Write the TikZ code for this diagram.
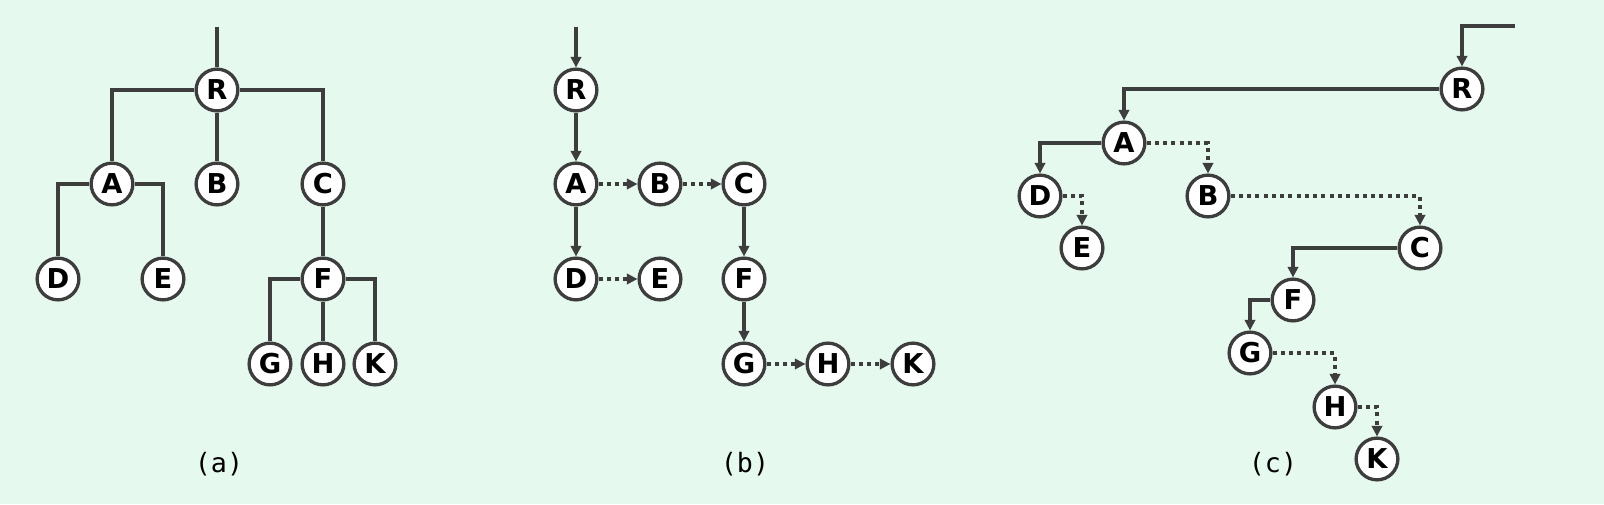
\documentclass[tikz,border=0pt]{standalone}
\usepackage{fontspec}
\setmainfont{DejaVu Sans}
\setmonofont{DejaVu Sans Mono}
\usepackage{tikz}
\usetikzlibrary{arrows.meta,positioning}
\definecolor{fondo}{HTML}{E6F9EF}
\definecolor{trazo}{HTML}{3D3D3D}

\begin{document}
\begin{tikzpicture}[x=0.75pt,y=-0.75pt,
			nodo/.style={draw=trazo,line width=2.5pt,fill=white,circle,minimum size=31.3pt,inner sep=0pt,font=\fontsize{20.5}{20.5}\selectfont\bfseries},
			rama/.style={draw=trazo,line width=2.6pt},
			flecha/.style={rama,-{Triangle[length=8pt,width=7.8pt]}},
			enlace/.style={flecha,dash pattern=on 3pt off 3.2pt},
			etiqueta/.style={font=\fontsize{20}{20}\selectfont\ttfamily}
			]
			\path[fill=fondo,use as bounding box] (0,0) rectangle (1604,504);
			% (a)
			\node[nodo] (aR) at (217,90) {R};
			\node[nodo] (aA) at (112,184) {A};
			\node[nodo] (aB) at (217,184) {B};
			\node[nodo] (aC) at (323,184) {C};
			\node[nodo] (aD) at (58,279) {D};
			\node[nodo] (aE) at (163,279) {E};
			\node[nodo] (aF) at (323,279) {F};
			\node[nodo] (aG) at (270,364) {G};
			\node[nodo] (aH) at (323,364) {H};
			\node[nodo] (aK) at (375,364) {K};
			\coordinate (ain) at (217,27);
			\draw[rama] (ain) -- (aR);
			\draw[rama] (aR) -| (aA);
			\draw[rama] (aR) -- (aB);
			\draw[rama] (aR) -| (aC);
			\draw[rama] (aA) -| (aD);
			\draw[rama] (aA) -| (aE);
			\draw[rama] (aC) -- (aF);
			\draw[rama] (aF) -| (aG);
			\draw[rama] (aF) -- (aH);
			\draw[rama] (aF) -| (aK);
			\node[etiqueta] (la) at (219,464) {(a)};
			% (b)
			\node[nodo] (bR) at (576,90) {R};
			\node[nodo] (bA) at (576,184) {A};
			\node[nodo] (bB) at (660,184) {B};
			\node[nodo] (bC) at (744,184) {C};
			\node[nodo] (bD) at (576,279) {D};
			\node[nodo] (bE) at (660,279) {E};
			\node[nodo] (bF) at (744,279) {F};
			\node[nodo] (bG) at (744,364) {G};
			\node[nodo] (bH) at (828,364) {H};
			\node[nodo] (bK) at (913,364) {K};
			\coordinate (bin) at (576,27);
			\draw[flecha] (bin) -- (bR);
			\draw[flecha] (bR) -- (bA);
			\draw[flecha] (bA) -- (bD);
			\draw[flecha] (bC) -- (bF);
			\draw[flecha] (bF) -- (bG);
			\draw[enlace] (bA) -- (bB);
			\draw[enlace] (bB) -- (bC);
			\draw[enlace] (bD) -- (bE);
			\draw[enlace] (bG) -- (bH);
			\draw[enlace] (bH) -- (bK);
			\node[etiqueta] (lb) at (745,464) {(b)};
			% (c)
			\node[nodo] (cR) at (1462,89) {R};
			\node[nodo] (cA) at (1124,143) {A};
			\node[nodo] (cD) at (1040,196) {D};
			\node[nodo] (cB) at (1208,196) {B};
			\node[nodo] (cE) at (1082,248) {E};
			\node[nodo] (cC) at (1420,248) {C};
			\node[nodo] (cF) at (1293,300) {F};
			\node[nodo] (cG) at (1250,353) {G};
			\node[nodo] (cH) at (1335,407) {H};
			\node[nodo] (cK) at (1377,459) {K};
			\coordinate (cin) at (1515,26);
			\draw[flecha] (cin) -| (cR);
			\draw[flecha] (cR) -| (cA);
			\draw[flecha] (cA) -| (cD);
			\draw[flecha] (cC) -| (cF);
			\draw[flecha] (cF) -| (cG);
			\draw[enlace] (cA) -| (cB);
			\draw[enlace] (cD) -| (cE);
			\draw[enlace] (cB) -| (cC);
			\draw[enlace] (cG) -| (cH);
			\draw[enlace] (cH) -| (cK);
			\node[etiqueta] (lc) at (1273,464) {(c)};
		\end{tikzpicture}
\end{document}
